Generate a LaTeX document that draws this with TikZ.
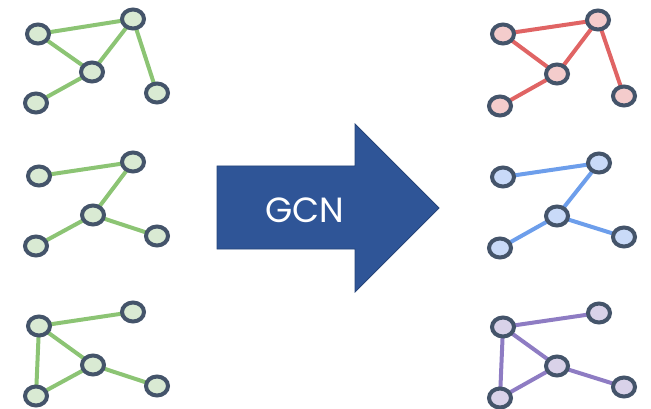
\documentclass[tikz,border=0pt]{standalone}
\usepackage{fontspec}
\usetikzlibrary{shapes.geometric}
\newfontfamily\gcnfont{Poppins}
\definecolor{rim}{HTML}{44546A}
\definecolor{gline}{HTML}{8CC474}
\definecolor{gfill}{HTML}{D9EAD3}
\definecolor{rline}{HTML}{E06464}
\definecolor{rfill}{HTML}{F4CCCC}
\definecolor{bline}{HTML}{6D9EEB}
\definecolor{bfill}{HTML}{C9DAF8}
\definecolor{pline}{HTML}{8E7CC3}
\definecolor{pfill}{HTML}{D9D2E9}
\definecolor{arrowblue}{HTML}{2F5597}

\begin{document}
\begin{tikzpicture}[
  x=1pt,
  y=-1pt,
  vert/.style={ellipse, draw=rim, line width=4pt, minimum width=22pt, minimum height=19pt, inner sep=0pt},
  gv/.style={vert, fill=gfill},
  rv/.style={vert, fill=rfill},
  bv/.style={vert, fill=bfill},
  pv/.style={vert, fill=pfill},
  link/.style={line width=4pt},
  gl/.style={link, draw=gline},
  rl/.style={link, draw=rline},
  bl/.style={link, draw=bline},
  pl/.style={link, draw=pline},
  bigarrow/.style={fill=arrowblue, draw=arrowblue!80!black, line width=0.8pt, line join=miter}
]
\useasboundingbox (0,0) rectangle (651,409);

% input graphs
\coordinate (g1a) at (38,34);
\coordinate (g1b) at (133,19);
\coordinate (g1c) at (92,72);
\coordinate (g1d) at (36,103);
\coordinate (g1e) at (157,93);
\draw[gl] (g1a) -- (g1b);
\draw[gl] (g1a) -- (g1c);
\draw[gl] (g1c) -- (g1b);
\draw[gl] (g1b) -- (g1e);
\draw[gl] (g1c) -- (g1d);
\node[gv] at (g1a) {};
\node[gv] at (g1b) {};
\node[gv] at (g1c) {};
\node[gv] at (g1d) {};
\node[gv] at (g1e) {};

\coordinate (g2a) at (39,176);
\coordinate (g2b) at (133,162);
\coordinate (g2c) at (93,215);
\coordinate (g2d) at (36,246);
\coordinate (g2e) at (157,236);
\draw[gl] (g2a) -- (g2b);
\draw[gl] (g2b) -- (g2c);
\draw[gl] (g2c) -- (g2d);
\draw[gl] (g2c) -- (g2e);
\node[gv] at (g2a) {};
\node[gv] at (g2b) {};
\node[gv] at (g2c) {};
\node[gv] at (g2d) {};
\node[gv] at (g2e) {};

\coordinate (g3a) at (39,326);
\coordinate (g3b) at (133,312);
\coordinate (g3c) at (93,365);
\coordinate (g3d) at (36,396);
\coordinate (g3e) at (157,386);
\draw[gl] (g3a) -- (g3b);
\draw[gl] (g3a) -- (g3c);
\draw[gl] (g3a) -- (g3d);
\draw[gl] (g3c) -- (g3d);
\draw[gl] (g3c) -- (g3e);
\node[gv] at (g3a) {};
\node[gv] at (g3b) {};
\node[gv] at (g3c) {};
\node[gv] at (g3d) {};
\node[gv] at (g3e) {};

% the GCN arrow
\draw[bigarrow] (217,166) -- (355,166) -- (355,124) -- (439,208)
  -- (355,292) -- (355,249) -- (217,249) -- cycle;
\node[text=white, font=\gcnfont\fontsize{35}{35}\selectfont] (gcn) at (305,210) {GCN};

% output graphs
\coordinate (r1a) at (503,34);
\coordinate (r1b) at (598,20);
\coordinate (r1c) at (557,74);
\coordinate (r1d) at (500,106);
\coordinate (r1e) at (624,96);
\draw[rl] (r1a) -- (r1b);
\draw[rl] (r1a) -- (r1c);
\draw[rl] (r1c) -- (r1b);
\draw[rl] (r1b) -- (r1e);
\draw[rl] (r1c) -- (r1d);
\node[rv] at (r1a) {};
\node[rv] at (r1b) {};
\node[rv] at (r1c) {};
\node[rv] at (r1d) {};
\node[rv] at (r1e) {};

\coordinate (b2a) at (503,177);
\coordinate (b2b) at (599,163);
\coordinate (b2c) at (557,216);
\coordinate (b2d) at (500,248);
\coordinate (b2e) at (624,237);
\draw[bl] (b2a) -- (b2b);
\draw[bl] (b2b) -- (b2c);
\draw[bl] (b2c) -- (b2d);
\draw[bl] (b2c) -- (b2e);
\node[bv] at (b2a) {};
\node[bv] at (b2b) {};
\node[bv] at (b2c) {};
\node[bv] at (b2d) {};
\node[bv] at (b2e) {};

\coordinate (p3a) at (503,327);
\coordinate (p3b) at (599,313);
\coordinate (p3c) at (557,366);
\coordinate (p3d) at (500,398);
\coordinate (p3e) at (624,387);
\draw[pl] (p3a) -- (p3b);
\draw[pl] (p3a) -- (p3c);
\draw[pl] (p3a) -- (p3d);
\draw[pl] (p3c) -- (p3d);
\draw[pl] (p3c) -- (p3e);
\node[pv] at (p3a) {};
\node[pv] at (p3b) {};
\node[pv] at (p3c) {};
\node[pv] at (p3d) {};
\node[pv] at (p3e) {};
\end{tikzpicture}
\end{document}
